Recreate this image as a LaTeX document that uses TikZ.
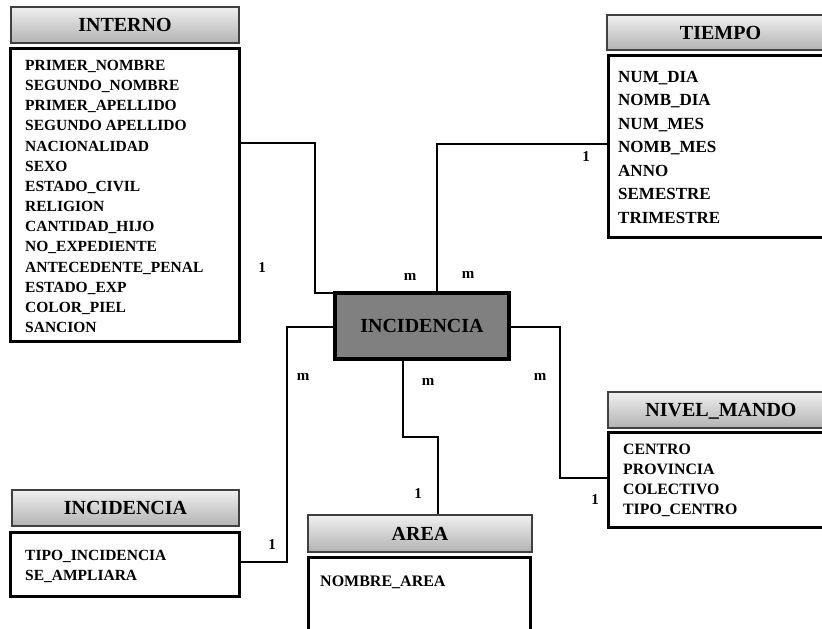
\documentclass[tikz,border=0pt]{standalone}
\usepackage{fontspec}
\setmainfont{Liberation Serif}
\begin{document}
\begin{tikzpicture}[x=1pt,y=-1pt,
  hdr/.style={rectangle, draw=black!75, line width=1.2pt, top color=black!6, bottom color=black!30,
    inner sep=0pt, text height=13.5pt, text depth=0pt, font=\fontsize{20}{24}\selectfont\bfseries},
  ebody/.style={rectangle, draw=black, line width=3pt, fill=white, inner sep=0pt},
  attr/.style={anchor=base west, inner sep=0pt, font=\fontsize{15.5}{18}\selectfont\bfseries},
  card/.style={inner sep=0pt, font=\fontsize{15}{18}\selectfont\bfseries},
  conn/.style={draw=black, line width=2.5pt, line join=miter}]
\useasboundingbox (0,0) rectangle (822,629);
\clip (0,0) rectangle (822,629);

% connectors first (under boxes)
\node[rectangle, draw=black, line width=3.5pt, fill=black!50, minimum width=174pt, minimum height=66pt,
  inner sep=0pt, text height=13.5pt, text depth=0pt, font=\fontsize{20}{24}\selectfont\bfseries] (cen) at (422,326) {INCIDENCIA};

% INTERNO
\node[hdr, minimum width=228pt, minimum height=36pt] (intH) at (125,25) {INTERNO};
\node[ebody, minimum width=229pt, minimum height=293pt] (intB) at (124.5,194.5) {};
\foreach \t [count=\i] in {PRIMER\_NOMBRE, SEGUNDO\_NOMBRE, PRIMER\_APELLIDO, SEGUNDO APELLIDO,
  NACIONALIDAD, SEXO, ESTADO\_CIVIL, RELIGION, CANTIDAD\_HIJO, NO\_EXPEDIENTE,
  ANTECEDENTE\_PENAL, ESTADO\_EXP, COLOR\_PIEL, SANCION}
  \node[attr] (int\i) at (25, {70.5+20.15*(\i-1)}) {\t};

% TIEMPO
\node[hdr, minimum width=227pt, minimum height=35pt] (tieH) at (720.5,32.5) {TIEMPO};
\node[ebody, minimum width=226pt, minimum height=182pt] (tieB) at (721,146) {};
\foreach \t [count=\i] in {NUM\_DIA, NOMB\_DIA, NUM\_MES, NOMB\_MES, ANNO, SEMESTRE, TRIMESTRE}
  \node[attr, font=\fontsize{17}{20}\selectfont\bfseries] (tie\i) at (618, {82+23.5*(\i-1)}) {\t};

% NIVEL_MANDO
\node[hdr, minimum width=226pt, minimum height=36pt] (nivH) at (721,410) {NIVEL\_MANDO};
\node[ebody, minimum width=226pt, minimum height=95pt] (nivB) at (721,479.5) {};
\foreach \t [count=\i] in {CENTRO, PROVINCIA, COLECTIVO, TIPO\_CENTRO}
  \node[attr, font=\fontsize{15.8}{18}\selectfont\bfseries] (niv\i) at (623, {454+20*(\i-1)}) {\t};

% INCIDENCIA (entity)
\node[hdr, minimum width=227pt, minimum height=36pt] (incH) at (125.5,508) {INCIDENCIA};
\node[ebody, minimum width=229pt, minimum height=64pt] (incB) at (124.5,564) {};
\node[attr] (inc1) at (25,560) {TIPO\_INCIDENCIA};
\node[attr] (inc2) at (25,580.5) {SE\_AMPLIARA};

% AREA
\node[hdr, minimum width=224pt, minimum height=37pt] (areaH) at (420,533.5) {AREA};
\node[ebody, minimum width=222pt, minimum height=75pt] (areaB) at (419,594.5) {};
\node[attr, font=\fontsize{16}{18}\selectfont\bfseries] (area1) at (320,586) {NOMBRE\_AREA};

% bend points
\coordinate (b1) at (315,143);
\coordinate (b2) at (437,144);
\coordinate (b3) at (287,327);
\coordinate (b4) at (287,562);
\coordinate (b5) at (403,437);
\coordinate (b6) at (438,437);
\coordinate (b7) at (560,327);
\coordinate (b8) at (560,478);

\draw[conn] (intB.east |- b1) -- (b1) |- ([yshift=-1.5pt]cen.north west);
\draw[conn] ([xshift=15pt]cen.north) -- (b2) -- (tieB.west |- b2);
\draw[conn] (cen.west |- b3) -- (b3) -- (b4) -- (incB.east |- b4);
\draw[conn] ([xshift=-19pt]cen.south) -- (b5) -- (b6) -- (areaH.north -| b6);
\draw[conn] (cen.east |- b7) -- (b7) -- (b8) -- (nivB.west |- b8);

% cardinalities
\node[card] (c1) at (262,268) {1};
\node[card] (c2) at (410,277) {m};
\node[card] (c3) at (468,275) {m};
\node[card] (c4) at (586,157) {1};
\node[card] (c5) at (303,377) {m};
\node[card] (c6) at (428,382) {m};
\node[card] (c7) at (540,377) {m};
\node[card] (c8) at (272,545) {1};
\node[card] (c9) at (418,494) {1};
\node[card] (c10) at (595,500) {1};
\end{tikzpicture}
\end{document}
